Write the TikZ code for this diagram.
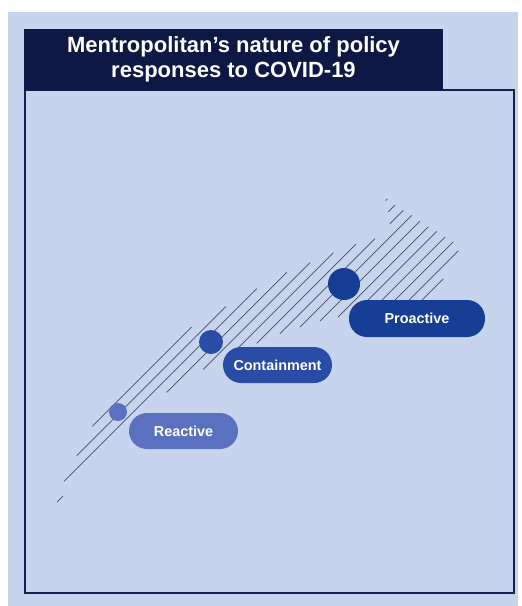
\documentclass[tikz,border=0pt]{standalone}
\usepackage{fontspec}
\setmainfont{Liberation Sans}
\usetikzlibrary{positioning}

\definecolor{bgblue}{RGB}{198,212,237}
\definecolor{titlenavy}{RGB}{13,24,68}
\definecolor{framenavy}{RGB}{22,32,76}
\definecolor{hatchgray}{RGB}{72,78,104}
\definecolor{reactblue}{RGB}{90,113,191}
\definecolor{containblue}{RGB}{41,76,166}
\definecolor{proactblue}{RGB}{22,62,148}

\begin{document}
\begin{tikzpicture}[x=1pt,y=-1pt,
    phasepill/.style={rounded corners=18pt,minimum height=36pt,inner sep=0pt,
      text=white,font=\fontsize{14.4}{17}\selectfont\bfseries},
    phasedot/.style={circle,inner sep=0pt},
    hatchline/.style={hatchgray,line width=0.7pt}]
    \useasboundingbox (0,0) rectangle (522,606);
    \fill[bgblue] (8,12) rectangle (518,606);
    \draw[framenavy,line width=2pt] (25,90) rectangle (514,593);
    \node[fill=titlenavy,minimum width=419pt,minimum height=61pt,inner sep=0pt,
      align=center,text=white,font=\fontsize{22}{25}\selectfont\bfseries]
      (title) at (233.5,59.5) {Mentropolitan’s nature of policy\\responses to COVID-19};

    % hatched band, lines x+y=c
    \foreach \c/\xa/\xb in {518.7/92.3/191.7, 532.3/76.7/225.7, 545.3/64/256.7,
        559/57/63, 559/166.7/286.7, 572.7/203.3/310, 586/235/333.3, 586/385.5/387.5,
        600/256.7/356, 600/388.3/395, 613.5/280/375, 613.5/390/403.3,
        627/300/411.7, 641/320/420, 655/338/428.3, 668/366/436.7,
        682/380/445, 695/393/453.3, 709/407/458.3, 722/420/443.3}
      \draw[hatchline] (\xa,{\c-\xa}) -- (\xb,{\c-\xb});

    % stages
    \node[phasedot,fill=reactblue,minimum size=18pt] (reactdot) at (118,412) {};
    \node[phasedot,fill=containblue,minimum size=24pt] (containdot) at (211,342) {};
    \node[phasedot,fill=proactblue,minimum size=32pt] (proactdot) at (344,284) {};

    \node[phasepill,fill=reactblue,minimum width=109pt] (reactive) at (183.5,431) {Reactive};
    \node[phasepill,fill=containblue,minimum width=109pt] (containment) at (277.5,365) {Containment};
    \node[phasepill,fill=proactblue,minimum width=136pt,minimum height=37pt] (proactive) at (417,318.5) {Proactive};
\end{tikzpicture}
\end{document}
